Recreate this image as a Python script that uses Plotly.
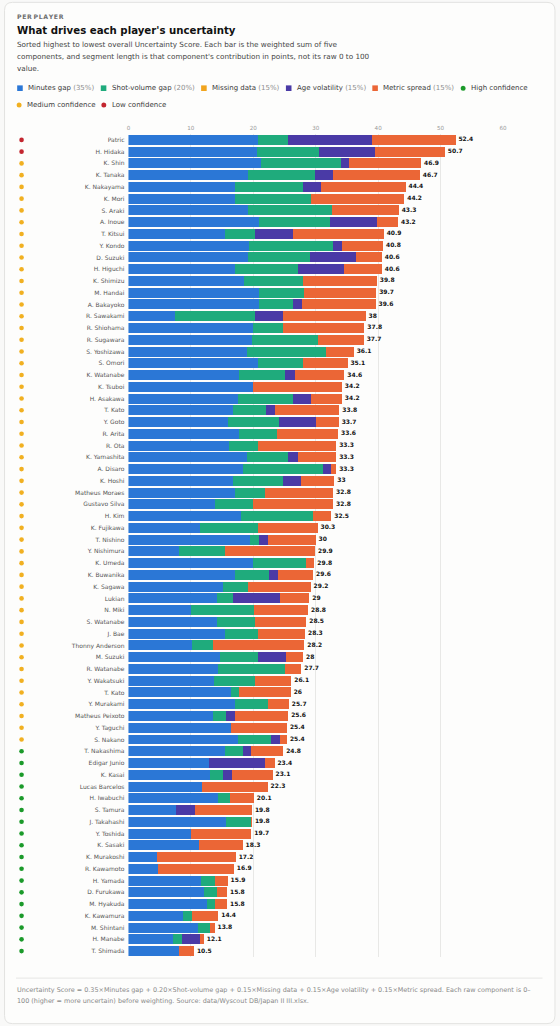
import plotly.graph_objects as go

# ---------------- data ----------------
players = [
    "Patric", "H. Hidaka", "K. Shin", "K. Tanaka", "K. Nakayama", "K. Mori", "S. Araki", "A. Inoue",
    "T. Kitsui", "Y. Kondo", "D. Suzuki", "H. Higuchi", "K. Shimizu", "M. Handai", "A. Bakayoko",
    "R. Sawakami", "R. Shiohama", "R. Sugawara", "S. Yoshizawa", "S. Omori", "K. Watanabe", "K. Tsuboi",
    "H. Asakawa", "T. Kato", "Y. Goto", "R. Arita", "R. Ota", "K. Yamashita", "A. Disaro", "K. Hoshi",
    "Matheus Moraes", "Gustavo Silva", "H. Kim", "K. Fujikawa", "T. Nishino", "Y. Nishimura", "K. Umeda",
    "K. Buwanika", "K. Sagawa", "Lukian", "N. Miki", "S. Watanabe", "J. Bae", "Thonny Anderson",
    "M. Suzuki", "R. Watanabe", "Y. Wakatsuki", "T. Kato", "Y. Murakami", "Matheus Peixoto", "Y. Taguchi",
    "S. Nakano", "T. Nakashima", "Edigar Junio", "K. Kasai", "Lucas Barcelos", "H. Iwabuchi", "S. Tamura",
    "J. Takahashi", "Y. Toshida", "K. Sasaki", "K. Murakoshi", "R. Kawamoto", "H. Yamada", "D. Furukawa",
    "M. Hyakuda", "K. Kawamura", "M. Shintani", "H. Manabe", "T. Shimada",
]

minutes_gap = [
    20.8, 20.6, 21.2, 19.2, 17.1, 17.1, 19.2, 20.9, 15.5, 19.3,
    19.1, 17.1, 18.5, 20.9, 20.9, 7.5, 20.0, 19.8, 19.0, 20.8,
    17.7, 20.0, 17.6, 16.8, 16.0, 17.7, 16.1, 19.0, 18.3, 16.7,
    17.1, 13.9, 18.1, 11.5, 19.5, 8.1, 19.9, 17.1, 15.1, 14.2,
    10.0, 14.2, 15.5, 10.1, 14.7, 14.4, 13.7, 16.4, 17.1, 13.5,
    16.4, 17.5, 15.5, 12.9, 13.1, 11.8, 14.3, 7.6, 15.6, 10.0,
    11.3, 4.6, 4.7, 11.7, 12.1, 12.6, 8.8, 11.1, 7.2, 8.1,
]
shot_volume_gap = [
    4.7, 10.0, 12.8, 10.7, 10.8, 12.1, 13.4, 11.4, 4.7, 13.5,
    10.0, 10.0, 9.4, 7.3, 5.4, 12.8, 4.7, 10.6, 12.7, 7.2,
    7.4, 0.0, 8.8, 5.3, 8.1, 6.1, 4.7, 6.6, 12.8, 8.0,
    4.8, 6.0, 11.4, 9.3, 1.4, 7.4, 8.6, 5.4, 4.1, 2.6,
    10.1, 6.0, 5.3, 3.4, 6.1, 10.7, 6.6, 1.3, 5.3, 2.1,
    0.0, 5.3, 2.8, 0.0, 2.1, 0.0, 1.9, 0.0, 4.0, 0.0,
    0.0, 0.0, 0.0, 2.1, 2.1, 1.2, 1.3, 2.0, 1.4, 0.0,
]
missing_data = [
    0, 0, 0, 0, 0, 0, 0, 0, 0, 0,
    0, 0, 0, 0, 0, 0, 0, 0, 0, 0,
    0, 0, 0, 0, 0, 0, 0, 0, 0, 0,
    0, 0, 0, 0, 0, 0, 0, 0, 0, 0,
    0, 0, 0, 0, 0, 0, 0, 0, 0, 0,
    0, 0, 0, 0, 0, 0, 0, 0, 0, 0,
    0, 0, 0, 0, 0, 0, 0, 0, 0, 0,
]
age_volatility = [
    13.5, 8.9, 1.4, 2.9, 2.9, 0.0, 0.0, 7.5, 6.1, 1.4,
    7.4, 7.5, 0.0, 0.0, 1.5, 4.5, 0.0, 0.0, 0.0, 0.0,
    1.5, 0.0, 2.9, 1.4, 5.9, 0.0, 0.0, 1.5, 1.4, 2.9,
    0.0, 0.0, 0.0, 0.0, 1.5, 0.0, 0.0, 1.5, 0.0, 7.5,
    0.0, 0.0, 0.0, 0.0, 4.4, 0.0, 0.0, 0.0, 0.0, 1.4,
    0.0, 1.4, 1.4, 8.9, 1.4, 0.0, 0.0, 3.0, 0.0, 0.0,
    0.0, 0.0, 0.0, 0.0, 0.0, 0.0, 0.0, 0.0, 2.9, 0.0,
]
metric_spread = [
    13.4, 11.2, 11.5, 13.9, 13.6, 15.0, 10.7, 3.4, 14.6, 6.6,
    4.1, 6.0, 11.9, 11.5, 11.8, 13.2, 13.1, 7.3, 4.4, 7.1,
    8.0, 14.2, 4.9, 10.3, 3.7, 9.8, 12.5, 6.2, 0.8, 5.4,
    10.9, 12.9, 3.0, 9.5, 7.6, 14.4, 1.3, 5.6, 10.0, 4.7,
    8.7, 8.3, 7.5, 14.7, 2.8, 2.6, 5.8, 8.3, 3.3, 8.6,
    9.0, 1.2, 5.1, 1.6, 6.5, 10.5, 3.9, 9.2, 0.2, 9.7,
    7.0, 12.6, 12.2, 2.1, 1.6, 2.0, 4.3, 0.7, 0.6, 2.4,
]
uncertainty_score = [
    52.4, 50.7, 46.9, 46.7, 44.4, 44.2, 43.3, 43.2, 40.9, 40.8,
    40.6, 40.6, 39.8, 39.7, 39.6, 38.0, 37.8, 37.7, 36.1, 35.1,
    34.6, 34.2, 34.2, 33.8, 33.7, 33.6, 33.3, 33.3, 33.3, 33.0,
    32.8, 32.8, 32.5, 30.3, 30.0, 29.9, 29.8, 29.6, 29.2, 29.0,
    28.8, 28.5, 28.3, 28.2, 28.0, 27.7, 26.1, 26.0, 25.7, 25.6,
    25.4, 25.4, 24.8, 23.4, 23.1, 22.3, 20.1, 19.8, 19.8, 19.7,
    18.3, 17.2, 16.9, 15.9, 15.8, 15.8, 14.4, 13.8, 12.1, 10.5,
]
confidence = [
    "Low", "Low", "Medium", "Medium", "Medium", "Medium", "Medium", "Medium", "Medium", "Medium",
    "Medium", "Medium", "Medium", "Medium", "Medium", "Medium", "Medium", "Medium", "Medium", "Medium",
    "Medium", "Medium", "Medium", "Medium", "Medium", "Medium", "Medium", "Medium", "Medium", "Medium",
    "Medium", "Medium", "Medium", "Medium", "Medium", "Medium", "Medium", "Medium", "Medium", "Medium",
    "Medium", "Medium", "Medium", "Medium", "Medium", "Medium", "Medium", "Medium", "Medium", "Medium",
    "Medium", "Medium", "High", "High", "High", "High", "High", "High", "High", "High",
    "High", "High", "High", "High", "High", "High", "High", "High", "High", "High",
]

component_names = ["Minutes gap", "Shot-volume gap", "Missing data", "Age volatility", "Metric spread"]
component_weights = ["35%", "20%", "15%", "15%", "15%"]
x_ticks = [0, 10, 20, 30, 40, 50, 60]

# ---------------- style ----------------
FONT = "DejaVu Sans"
COMP_COLORS = ["#2b77d6", "#1fab7c", "#f1a41d", "#4a3aa6", "#eb6636"]
CONF_COLORS = {"High": "#1b9a2a", "Medium": "#f1b021", "Low": "#c3262f"}

W_PX, H_PX = 560, 1026
L, R, T, B = 10, 56.7, 134.1, 69.1
PW = W_PX - L - R
PH = H_PX - T - B


def px(x):
    return (x - L) / PW


def py(y):
    return (H_PX - B - y) / PH


rows = list(range(len(players)))
components = [minutes_gap, shot_volume_gap, missing_data, age_volatility, metric_spread]

fig = go.Figure()
for name, vals, col in zip(component_names, components, COMP_COLORS):
    fig.add_trace(go.Bar(
        y=rows, x=vals, orientation="h", name=name,
        marker=dict(color=col, line=dict(width=0)),
        showlegend=False, hoverinfo="skip", xaxis="x", yaxis="y",
    ))

fig.add_trace(go.Scatter(
    y=rows, x=uncertainty_score, mode="markers+text",
    marker=dict(size=3, color="rgba(0,0,0,0)", line=dict(width=0)),
    text=[f"{v:g}" for v in uncertainty_score], textposition="middle right",
    textfont=dict(family=FONT, size=6, color="#111111", weight="bold"),
    cliponaxis=False, showlegend=False, hoverinfo="skip", xaxis="x", yaxis="y",
))

fig.add_trace(go.Scatter(
    y=rows, x=[0.5 for _ in rows], mode="markers",
    marker=dict(size=4.6, color=[CONF_COLORS[c] for c in confidence], line=dict(width=0)),
    cliponaxis=False, showlegend=False, hoverinfo="skip", xaxis="x2", yaxis="y",
))

shapes = []
annotations = []

# card
x0, x1, y0, y1, r = 2.5, 555.5, 2.5, 1023.5, 8
pth = (f"M {px(x0 + r)} {py(y0)} L {px(x1 - r)} {py(y0)} Q {px(x1)} {py(y0)} {px(x1)} {py(y0 + r)} "
       f"L {px(x1)} {py(y1 - r)} Q {px(x1)} {py(y1)} {px(x1 - r)} {py(y1)} "
       f"L {px(x0 + r)} {py(y1)} Q {px(x0)} {py(y1)} {px(x0)} {py(y1 - r)} "
       f"L {px(x0)} {py(y0 + r)} Q {px(x0)} {py(y0)} {px(x0 + r)} {py(y0)} Z")
shapes.append(dict(type="path", path=pth, xref="paper", yref="paper", layer="below",
                   fillcolor="#fdfdfc", line=dict(color="#e3e3e1", width=1)))

# footer divider
shapes.append(dict(type="line", xref="paper", yref="paper", x0=px(14), x1=px(543), y0=py(978), y1=py(978),
                   line=dict(color="#e6e6e4", width=1), layer="below"))


def txt(x, y, s, size, color, bold=False, xanchor="left"):
    annotations.append(dict(
        x=px(x), y=py(y), xref="paper", yref="paper", text=s, showarrow=False,
        xanchor=xanchor, yanchor="middle", align="left",
        font=dict(family=FONT, size=size, color=color, weight="bold" if bold else "normal"),
    ))


txt(13.5, 16.8, "P E R  P L A Y E R".replace("  ", "   ").replace(" ", "\u200a"), 6.2, "#6e6e6e", bold=True)
txt(13.5, 30.8, "What drives each player's uncertainty", 10.2, "#111111", bold=True)
txt(13.5, 45.0, "Sorted highest to lowest overall Uncertainty Score. Each bar is the weighted sum of five", 7.25, "#454545")
txt(13.5, 56.7, "components, and segment length is that component's contribution in points, not its raw 0 to 100", 7.25, "#454545")
txt(13.5, 68.3, "value.", 7.25, "#454545")

# legend (row 1: components, then high confidence; row 2: medium/low confidence)
sq_x = [15.2, 99.2, 200.0, 285.2, 372.0]
ly1, ly2 = 88.3, 105.0
for sx, nm, wt, col in zip(sq_x, component_names, component_weights, COMP_COLORS):
    shapes.append(dict(type="rect", xref="paper", yref="paper", x0=px(sx), x1=px(sx + 5.6),
                       y0=py(ly1 - 2.8), y1=py(ly1 + 2.8), fillcolor=col, line=dict(width=0), layer="above"))
    txt(sx + 8.8, ly1, f"{nm} <span style='color:#8e8e8e'>({wt})</span>", 7, "#3a3a3a")

dots = [(463.3, ly1, "High", "High confidence"), (17.2, ly2, "Medium", "Medium confidence"),
        (102.3, ly2, "Low", "Low confidence")]
for dx, dy, key, label in dots:
    shapes.append(dict(type="circle", xref="paper", yref="paper", x0=px(dx - 2.5), x1=px(dx + 2.5),
                       y0=py(dy - 2.5), y1=py(dy + 2.5), fillcolor=CONF_COLORS[key], line=dict(width=0),
                       layer="above"))
    txt(dx + 6.0, dy, label, 7, "#3a3a3a")

# footer
txt(13.5, 990.0, "Uncertainty Score = 0.35×Minutes gap + 0.20×Shot-volume gap + 0.15×Missing data + 0.15×Age volatility + 0.15×Metric spread. Each raw component is 0–", 6.45, "#8a8a8a")
txt(13.5, 1000.6, "100 (higher = more uncertain) before weighting. Source: data/Wyscout DB/Japan II III.xlsx.", 6.45, "#8a8a8a")

fig.update_layout(
    width=W_PX, height=H_PX,
    margin=dict(l=L, r=R, t=T, b=B, pad=0),
    paper_bgcolor="#f9f9f8", plot_bgcolor="rgba(0,0,0,0)",
    barmode="stack", bargap=0.15,
    font=dict(family=FONT),
    showlegend=False,
    xaxis=dict(domain=[px(127), 1], range=[0, 60], side="top", anchor="y",
               tickvals=x_ticks, ticktext=[str(t) for t in x_ticks],
               showgrid=True, gridcolor="#e8e8e6", gridwidth=1, zeroline=False, showline=False,
               ticks="", ticklabelstandoff=2,
               tickfont=dict(family=FONT, size=5.6, color="#9a9a9a"), fixedrange=True),
    xaxis2=dict(domain=[0, px(29.2)], range=[0, 1], visible=False, anchor="y", fixedrange=True),
    yaxis=dict(range=[len(players) - 0.5, -0.5], anchor="x", tickvals=rows, ticktext=players,
               showgrid=False, zeroline=False, showline=False, ticks="", ticklabelstandoff=3,
               tickfont=dict(family=FONT, size=6.0, color="#555555"), fixedrange=True),
    shapes=shapes, annotations=annotations,
)

fig.write_html("out.html", config={"displayModeBar": False, "staticPlot": True},
               post_script="document.body.style.margin='0';")
